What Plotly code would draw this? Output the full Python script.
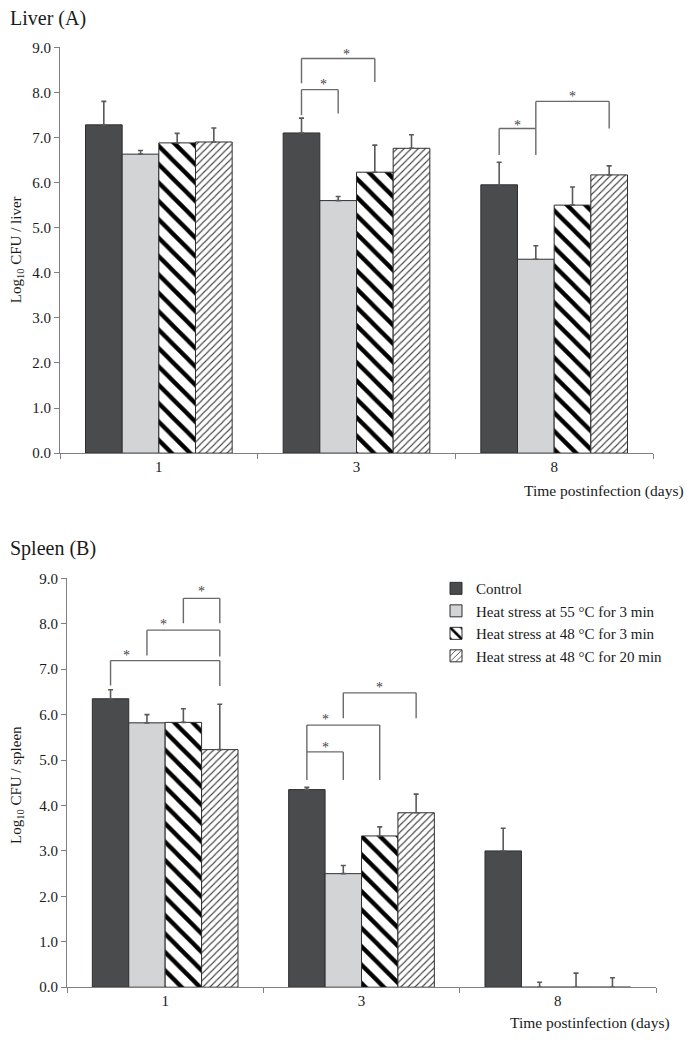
import plotly.graph_objects as go

# ---------------- data ----------------
days = ["1", "3", "8"]
series_names = [
    "Control",
    "Heat stress at 55 °C for 3 min",
    "Heat stress at 48 °C for 3 min",
    "Heat stress at 48 °C for 20 min",
]

liver_control = [7.28, 7.10, 5.95]
liver_h55_3 = [6.63, 5.60, 4.30]
liver_h48_3 = [6.88, 6.23, 5.50]
liver_h48_20 = [6.90, 6.76, 6.17]

liver_err_control = [0.52, 0.33, 0.50]
liver_err_h55_3 = [0.08, 0.09, 0.30]
liver_err_h48_3 = [0.21, 0.60, 0.40]
liver_err_h48_20 = [0.31, 0.30, 0.20]

spleen_control = [6.35, 4.35, 3.00]
spleen_h55_3 = [5.82, 2.50, 0.0]
spleen_h48_3 = [5.83, 3.33, 0.0]
spleen_h48_20 = [5.23, 3.84, 0.0]

spleen_err_control = [0.20, 0.05, 0.50]
spleen_err_h55_3 = [0.18, 0.18, 0.11]
spleen_err_h48_3 = [0.30, 0.20, 0.31]
spleen_err_h48_20 = [1.00, 0.41, 0.21]

y_ticks = [0, 1, 2, 3, 4, 5, 6, 7, 8, 9]

# significance brackets: (group, bar_a, bar_b, y_top, y_a_bottom, y_b_bottom, star_x_shift, star_y)
liver_brackets = [
    (1, 0, 1, 8.06, 7.49, 7.53, 0.02, 8.25),
    (1, 0, 2, 8.75, 8.20, 8.23, 0.04, 8.90),
    (2, 0, 1, 7.20, 6.61, 6.61, 0.0, 7.34),
    (2, 1, 3, 7.80, 7.20, 7.20, 0.0, 7.98),
]
spleen_brackets = [
    (0, 0, 3, 7.19, 6.64, 6.63, -0.195, 7.37),
    (0, 1, 3, 7.86, 7.30, 7.28, -0.10, 8.05),
    (0, 2, 3, 8.56, 8.01, 8.01, 0.0, 8.78),
    (1, 0, 1, 5.18, 4.56, 4.56, 0.0, 5.35),
    (1, 0, 2, 5.77, 5.18, 4.56, -0.09, 5.96),
    (1, 1, 3, 6.48, 5.92, 5.92, 0.0, 6.67),
]

# ---------------- style ----------------
FONT = "Liberation Serif, Times New Roman, serif"
TXT = "#1a1a1a"
AX = "#808080"
W, H = 693, 1040


def py(px):
    """vertical pixel position (from top) -> paper fraction, with render calibration"""
    return 1 - ((px - 7.7) / 0.985) / H


fills = ["#4a4b4d", "#d3d4d6", "white", "white"]
patterns = [
    dict(shape=""),
    dict(shape=""),
    dict(shape="\\", fgcolor="#000000", bgcolor="white", size=13, solidity=0.33, fgopacity=1),
    dict(shape="/", fgcolor="#444444", bgcolor="white", size=5, solidity=0.22, fgopacity=1),
]
bargap = 0.258
bar_w = (1 - bargap) / 4
offsets = [(-1.5 + i) * bar_w for i in range(4)]

fig = go.Figure()

panels = [
    ("x", "y", [liver_control, liver_h55_3, liver_h48_3, liver_h48_20],
     [liver_err_control, liver_err_h55_3, liver_err_h48_3, liver_err_h48_20], False),
    ("x2", "y2", [spleen_control, spleen_h55_3, spleen_h48_3, spleen_h48_20],
     [spleen_err_control, spleen_err_h55_3, spleen_err_h48_3, spleen_err_h48_20], True),
]

for xa, ya, vals, errs, show in panels:
    for i in range(4):
        fig.add_trace(go.Bar(
            x=days, y=vals[i], name=series_names[i], xaxis=xa, yaxis=ya,
            marker=dict(color=fills[i], line=dict(color="#2e2e2e", width=1),
                        pattern=patterns[i]),
            error_y=dict(type="data", array=errs[i], arrayminus=[0] * len(errs[i]),
                         symmetric=False, color="#5a5a5a", thickness=1.6, width=2.5),
            showlegend=show, legendgroup=series_names[i], hoverinfo="skip",
        ))

shapes = []
annotations = []
for xa, ya, brackets in [("x", "y", liver_brackets), ("x2", "y2", spleen_brackets)]:
    for g, a, b, yt, ya_b, yb_b, sx, sy in brackets:
        xa_pos = g + offsets[a]
        xb_pos = g + offsets[b]
        line = dict(color="#6a6a6a", width=1.4)
        shapes.append(dict(type="line", xref=xa, yref=ya, x0=xa_pos, x1=xa_pos, y0=ya_b, y1=yt, line=line))
        shapes.append(dict(type="line", xref=xa, yref=ya, x0=xa_pos, x1=xb_pos, y0=yt, y1=yt, line=line))
        shapes.append(dict(type="line", xref=xa, yref=ya, x0=xb_pos, x1=xb_pos, y0=yb_b, y1=yt, line=line))
        annotations.append(dict(xref=xa, yref=ya, x=(xa_pos + xb_pos) / 2 + sx, y=sy, text="*",
                                showarrow=False, font=dict(family=FONT, size=14, color="#444"),
                                yshift=-3))

# titles and labels
annotations += [
    dict(xref="paper", yref="paper", x=8 / W, y=py(18), text="Liver (A)", showarrow=False,
         xanchor="left", yanchor="middle", font=dict(family=FONT, size=20, color=TXT)),
    dict(xref="paper", yref="paper", x=8 / W, y=py(548), text="Spleen (B)", showarrow=False,
         xanchor="left", yanchor="middle", font=dict(family=FONT, size=20, color=TXT)),
    dict(xref="paper", yref="paper", x=686 / W, y=py(491), text="Time postinfection (days)",
         showarrow=False, xanchor="right", yanchor="middle", font=dict(family=FONT, size=15.5, color=TXT)),
    dict(xref="paper", yref="paper", x=672 / W, y=py(1023), text="Time postinfection (days)",
         showarrow=False, xanchor="right", yanchor="middle", font=dict(family=FONT, size=15.5, color=TXT)),
    dict(xref="paper", yref="paper", x=17 / W, y=py(250), text="Log<sub>10</sub> CFU / liver",
         showarrow=False, textangle=-90, xanchor="center", yanchor="middle",
         font=dict(family=FONT, size=15, color=TXT)),
    dict(xref="paper", yref="paper", x=17 / W, y=py(785), text="Log<sub>10</sub> CFU / spleen",
         showarrow=False, textangle=-90, xanchor="center", yanchor="middle",
         font=dict(family=FONT, size=15, color=TXT)),
]

xaxis_common = dict(type="category", tickson="boundaries", ticks="outside", ticklen=5, tickcolor=AX,
                    showline=True, linecolor=AX, linewidth=1, showgrid=False, zeroline=False,
                    tickfont=dict(family=FONT, size=15, color=TXT), range=[-0.5, 2.5], fixedrange=True)
yaxis_common = dict(range=[0, 9], tickvals=y_ticks, tickformat=".1f", ticks="outside", ticklen=5,
                    tickcolor=AX, showline=True, linecolor=AX, linewidth=1, showgrid=False,
                    zeroline=False, tickfont=dict(family=FONT, size=15, color=TXT), fixedrange=True)

fig.update_layout(
    width=W, height=H,
    margin=dict(l=0, r=0, t=0, b=0),
    paper_bgcolor="white", plot_bgcolor="white",
    barmode="group", bargap=bargap, bargroupgap=0,
    font=dict(family=FONT, color=TXT),
    hovermode=False,
    xaxis=dict(domain=[60 / W, 653 / W], anchor="y", **xaxis_common),
    yaxis=dict(domain=[py(453), py(47)], anchor="x", **yaxis_common),
    xaxis2=dict(domain=[67 / W, 656 / W], anchor="y2", **xaxis_common),
    yaxis2=dict(domain=[py(987.3), py(578.3)], anchor="x2", **yaxis_common),
    legend=dict(x=436 / W, y=py(572), xanchor="left", yanchor="top",
                bgcolor="rgba(0,0,0,0)", font=dict(family=FONT, size=15, color=TXT),
                itemwidth=30, tracegroupgap=0),
    shapes=shapes, annotations=annotations,
)

post = (
    "document.documentElement.style.margin='0';"
    "document.body.style.margin='0';document.body.style.padding='0';"
    "document.body.style.overflow='hidden';"
    "var gd=document.querySelector('.plotly-graph-div');"
    "gd.style.position='fixed';gd.style.top='0px';gd.style.left='0px';"
)
fig.write_html("out.html", config={"displayModeBar": False}, post_script=post)
